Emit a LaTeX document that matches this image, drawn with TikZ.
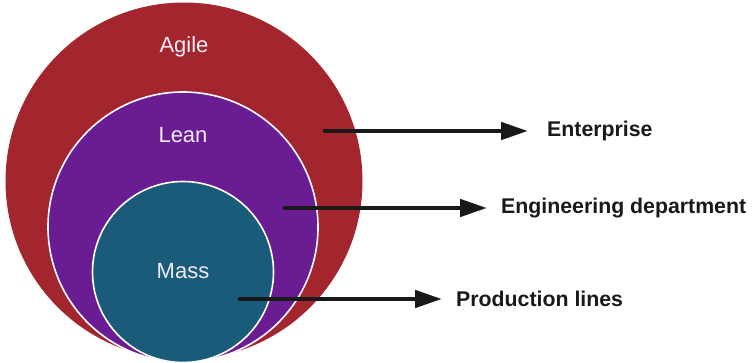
\documentclass[tikz,border=0pt]{standalone}
\usepackage{fontspec}
\setsansfont{Liberation Sans}
\usepackage{tikz}
\usetikzlibrary{arrows.meta, positioning}

\definecolor{agilered}{HTML}{A3262F}
\definecolor{leanpurple}{HTML}{6A1D93}
\definecolor{massteal}{HTML}{1B5B7A}
\definecolor{ringtext}{HTML}{F2EAF6}

\begin{document}
\begin{tikzpicture}[
    x=1pt, y=-1pt,
    disc/.style={circle, fill=#1, inner sep=0pt},
    disc/.default={agilered},
    ring/.style={disc=#1, draw=white, line width=1.6pt},
    rlabel/.style={font=\sffamily\fontsize{22}{26}\selectfont, text=ringtext, inner sep=0pt},
    tlabel/.style={font=\sffamily\bfseries\fontsize{21.3}{25}\selectfont, text=black!90, anchor=west, inner ysep=0pt},
    conn/.style={-{Triangle[length=27pt, width=17pt]}, line width=4.6pt, line cap=round, black!90}
]
\useasboundingbox (0,0) rectangle (754,363);

% === CIRCLES ===
\node[disc=agilered, minimum size=357pt] (agile) at (184,181) {};
\node[ring=leanpurple, minimum size=270pt] (lean) at (183,227) {};
\node[ring=massteal, minimum size=181pt] (mass) at (183,272) {};

\node[rlabel] (agilelbl) at (184,47) {Agile};
\node[rlabel] (leanlbl) at (183,135) {Lean};
\node[rlabel] (masslbl) at (183,271) {Mass};

% === LABELS ===
\node[tlabel, inner xsep=19pt] (ent) at (528,131) {Enterprise};
\node[tlabel, inner xsep=14pt] (eng) at (487,208) {Engineering department};
\node[tlabel, inner xsep=14pt] (prod) at (442,299) {Production lines};

\coordinate (entfrom) at (325,131);
\coordinate (engfrom) at (285,208);
\coordinate (prodfrom) at (240,299);

% === ARROWS ===
\draw[conn] (entfrom) -- (ent.west);
\draw[conn] (engfrom) -- (eng.west);
\draw[conn] (prodfrom) -- (prod.west);

\end{tikzpicture}
\end{document}
